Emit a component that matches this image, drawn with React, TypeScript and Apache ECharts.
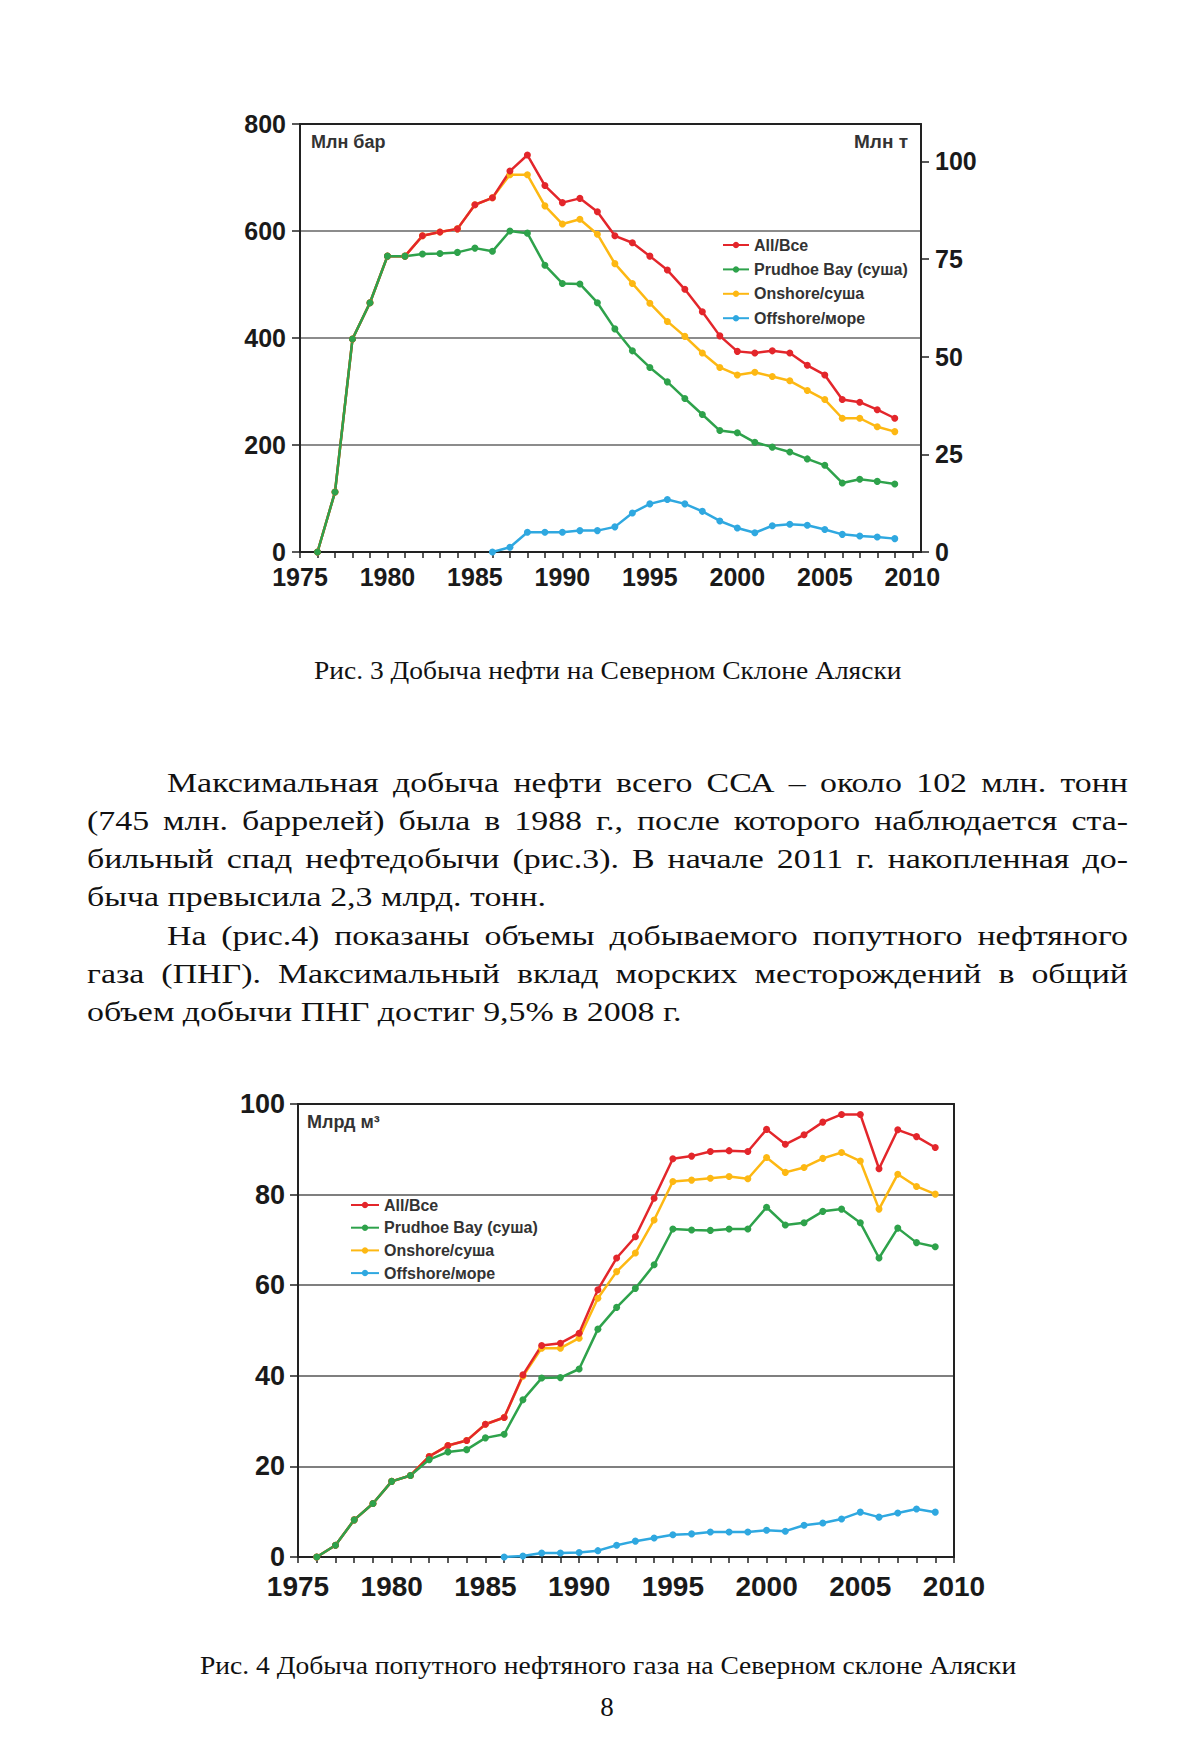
import React, { useEffect, useRef } from 'react';
import * as echarts from 'echarts';

// ---------- DATA ----------
const years = [1976, 1977, 1978, 1979, 1980, 1981, 1982, 1983, 1984, 1985, 1986, 1987, 1988, 1989, 1990, 1991, 1992, 1993, 1994, 1995, 1996, 1997, 1998, 1999, 2000, 2001, 2002, 2003, 2004, 2005, 2006, 2007, 2008, 2009];

// Fig. 3 — oil, million barrels
const oilAll = [0, 112, 398, 466, 553, 553, 591, 598, 604, 649, 662, 712, 742, 685, 653, 661, 636, 591, 578, 553, 527, 491, 449, 404, 375, 372, 376, 372, 349, 331, 285, 280, 266, 250];
const oilPrudhoe = [0, 112, 398, 466, 553, 553, 557, 558, 560, 568, 562, 600, 596, 536, 502, 501, 466, 417, 376, 345, 318, 287, 257, 227, 223, 205, 196, 187, 174, 162, 129, 136, 132, 127];
const oilOnshore = [0, 112, 398, 466, 553, 553, 591, 598, 604, 649, 662, 705, 705, 647, 613, 622, 594, 539, 502, 465, 431, 403, 372, 345, 331, 336, 328, 320, 302, 285, 250, 250, 234, 225];
const oilOffshore = [null, null, null, null, null, null, null, null, null, null, 0, 9, 37, 37, 37, 40, 40, 47, 73, 90, 98, 90, 76, 58, 45, 36, 49, 52, 50, 42, 33, 30, 28, 25];

// Fig. 4 — associated gas, bcm
const gasAll = [0, 2.6, 8.2, 11.8, 16.7, 18.0, 22.2, 24.6, 25.7, 29.3, 30.8, 40.2, 46.7, 47.2, 49.4, 59.0, 66.0, 70.7, 79.2, 87.9, 88.5, 89.5, 89.7, 89.5, 94.4, 91.1, 93.2, 96.0, 97.7, 97.7, 85.7, 94.3, 92.8, 90.4];
const gasPrudhoe = [0, 2.6, 8.2, 11.8, 16.7, 18.0, 21.5, 23.2, 23.7, 26.3, 27.1, 34.7, 39.5, 39.6, 41.5, 50.3, 55.1, 59.3, 64.5, 72.4, 72.2, 72.1, 72.4, 72.4, 77.2, 73.3, 73.8, 76.3, 76.8, 73.8, 66.0, 72.6, 69.4, 68.5];
const gasOnshore = [0, 2.6, 8.2, 11.8, 16.7, 18.0, 22.2, 24.6, 25.7, 29.3, 30.8, 39.9, 46.1, 46.1, 48.3, 57.1, 63.0, 67.1, 74.4, 82.9, 83.2, 83.6, 84.0, 83.5, 88.2, 84.9, 86.0, 88.0, 89.3, 87.4, 76.8, 84.5, 81.8, 80.1];
const gasOffshore = [null, null, null, null, null, null, null, null, null, null, 0, 0.2, 0.9, 0.9, 1.0, 1.4, 2.6, 3.5, 4.2, 4.9, 5.1, 5.5, 5.5, 5.5, 5.9, 5.7, 7.0, 7.5, 8.4, 9.9, 8.8, 9.7, 10.6, 9.9];

const seriesNames = ['All/Все', 'Prudhoe Bay (суша)', 'Onshore/суша', 'Offshore/море'];
const xLabelYears = [1975, 1980, 1985, 1990, 1995, 2000, 2005, 2010];
const oilRightTicks = [0, 25, 50, 75, 100];
const barrelsPerTonne = 7.3;

const paragraphLines = [
  { text: 'Максимальная добыча нефти всего ССА – около 102 млн. тонн', indent: true, justify: true },
  { text: '(745 млн. баррелей) была в 1988 г., после которого наблюдается ста-', indent: false, justify: true },
  { text: 'бильный спад нефтедобычи (рис.3). В начале 2011 г. накопленная до-', indent: false, justify: true },
  { text: 'быча превысила 2,3 млрд. тонн.', indent: false, justify: false },
  { text: 'На (рис.4) показаны объемы добываемого попутного нефтяного', indent: true, justify: true },
  { text: 'газа (ПНГ). Максимальный вклад морских месторождений в общий', indent: false, justify: true },
  { text: 'объем добычи ПНГ достиг 9,5% в 2008 г.', indent: false, justify: false },
];
const caption3 = 'Рис. 3 Добыча нефти на Северном Склоне Аляски';
const caption4 = 'Рис. 4 Добыча попутного нефтяного газа на Северном склоне Аляски';
const pageNumber = '8';

// ---------- STYLE ----------
const COLORS = { all: '#e3262b', prudhoe: '#2ea24b', onshore: '#fdb813', offshore: '#2fa8e0' };
const SANS = '"Liberation Sans", Arial, sans-serif';
const SERIF = '"Liberation Serif", "Times New Roman", serif';
const AXIS_COLOR = '#222';

const pairs = (vals: (number | null)[]) => years.map((y, i) => [y, vals[i]]);

function lineSeries(name: string, color: string, vals: (number | null)[], xi: number, yi: number) {
  return {
    type: 'line',
    name,
    xAxisIndex: xi,
    yAxisIndex: yi,
    data: pairs(vals),
    symbol: 'circle',
    symbolSize: 7,
    showSymbol: true,
    connectNulls: false,
    lineStyle: { color, width: 2.5 },
    itemStyle: { color },
  };
}

function minorYears(from: number, to: number) {
  const out: number[] = [];
  for (let y = from; y <= to; y++) out.push(y);
  return out;
}

export default function App() {
  const ref = useRef<HTMLDivElement>(null);

  useEffect(() => {
    document.body.style.margin = '0';
    if (!ref.current) return;
    const chart = echarts.init(ref.current, null, { renderer: 'svg' });

    // ---- text layout (measured) ----
    const ctx = document.createElement('canvas').getContext('2d')!;
    const paraFont = `27px ${SERIF}`;
    ctx.font = paraFont;
    const mw = (s: string) => ctx.measureText(s).width;
    const sx = (596 / mw(paragraphLines[6].text) + 458 / mw(paragraphLines[3].text)) / 2;
    const texts: any[] = [];
    paragraphLines.forEach((ln, i) => {
      const y = 783 + i * 38.2;
      const x0 = ln.indent ? 167 : 87;
      const right = 1128;
      const words = ln.text.split(' ');
      const ws = words.map((w) => mw(w) * sx);
      const sum = ws.reduce((a, b) => a + b, 0);
      const gap = ln.justify && words.length > 1 ? (right - x0 - sum) / (words.length - 1) : mw(' ') * sx;
      let x = x0;
      words.forEach((w, k) => {
        texts.push({
          type: 'text', x, y, scaleX: sx, silent: true,
          style: { text: w, font: paraFont, fill: '#111', textAlign: 'left', textVerticalAlign: 'middle' },
        });
        x += ws[k] + gap;
      });
    });
    const capFont = `25px ${SERIF}`;
    ctx.font = capFont;
    const c3w = ctx.measureText(caption3).width;
    const c4w = ctx.measureText(caption4).width;
    texts.push({ type: 'text', x: 314, y: 671, scaleX: 588 / c3w, silent: true,
      style: { text: caption3, font: capFont, fill: '#111', textAlign: 'left', textVerticalAlign: 'middle' } });
    texts.push({ type: 'text', x: 200, y: 1666, scaleX: 817 / c4w, silent: true,
      style: { text: caption4, font: capFont, fill: '#111', textAlign: 'left', textVerticalAlign: 'middle' } });
    texts.push({ type: 'text', x: 607, y: 1707, silent: true,
      style: { text: pageNumber, font: `27px ${SERIF}`, fill: '#111', textAlign: 'center', textVerticalAlign: 'middle' } });
    // unit labels inside the plots
    texts.push({ type: 'text', x: 311, y: 142, silent: true,
      style: { text: 'Млн бар', font: `bold 18px ${SANS}`, fill: '#333', textAlign: 'left', textVerticalAlign: 'middle' } });
    texts.push({ type: 'text', x: 908, y: 141, silent: true,
      style: { text: 'Млн т', font: `bold 19px ${SANS}`, fill: '#333', textAlign: 'right', textVerticalAlign: 'middle' } });
    texts.push({ type: 'text', x: 307, y: 1122, silent: true,
      style: { text: 'Млрд м³', font: `bold 18px ${SANS}`, fill: '#333', textAlign: 'left', textVerticalAlign: 'middle' } });

    const axisLine = { show: true, onZero: false, lineStyle: { color: AXIS_COLOR, width: 2 } };
    const tickStyle = { color: AXIS_COLOR, width: 1.5 };
    const borderAxis = (gridIndex: number, position: string, min: number, max: number) => ({
      gridIndex, type: 'value', position, min, max,
      axisLine, axisTick: { show: false }, axisLabel: { show: false }, splitLine: { show: false },
    });

    const legendBase = {
      orient: 'vertical',
      padding: 0,
      data: seriesNames,
      textStyle: { fontSize: 16, fontWeight: 'bold', color: '#333', fontFamily: SANS, lineHeight: 15 },
    };

    chart.setOption({
      animation: false,
      backgroundColor: '#ffffff',
      textStyle: { fontFamily: SANS },
      grid: [
        { left: 300, top: 124, width: 621, height: 428 },
        { left: 298, top: 1104, width: 656, height: 453 },
      ],
      legend: [
        { ...legendBase, left: 722, top: 237, itemWidth: 26, itemHeight: 8, itemGap: 8.4 },
        { ...legendBase, left: 350, top: 1197, itemWidth: 28, itemHeight: 8, itemGap: 6.7 },
      ],
      xAxis: [
        {
          gridIndex: 0, type: 'value', min: 1975, max: 2010.5, position: 'bottom',
          axisLine,
          axisTick: { show: true, customValues: minorYears(1975, 2010), length: 6, lineStyle: tickStyle },
          axisLabel: { customValues: xLabelYears, formatter: (v: number) => String(v), fontSize: 25, fontWeight: 'bold', color: '#1a1a1a', margin: 12, fontFamily: SANS },
          splitLine: { show: false },
        },
        borderAxis(0, 'top', 1975, 2010.5),
        {
          gridIndex: 1, type: 'value', min: 1975, max: 2010, position: 'bottom',
          axisLine,
          axisTick: { show: true, customValues: minorYears(1975, 2010), length: 6, lineStyle: tickStyle },
          axisLabel: { customValues: xLabelYears, formatter: (v: number) => String(v), fontSize: 28, fontWeight: 'bold', color: '#1a1a1a', margin: 15, fontFamily: SANS },
          splitLine: { show: false },
        },
        borderAxis(1, 'top', 1975, 2010),
      ],
      yAxis: [
        {
          gridIndex: 0, type: 'value', min: 0, max: 800, interval: 200, position: 'left',
          axisLine,
          axisTick: { show: true, length: 8, lineStyle: tickStyle },
          axisLabel: { fontSize: 25, fontWeight: 'bold', color: '#1a1a1a', margin: 14, fontFamily: SANS },
          splitLine: { show: true, lineStyle: { color: '#8c8c8c', width: 2 } },
        },
        {
          gridIndex: 0, type: 'value', min: 0, max: 800 / barrelsPerTonne, position: 'right',
          axisLine,
          axisTick: { show: true, customValues: oilRightTicks, length: 8, lineStyle: tickStyle },
          axisLabel: { customValues: oilRightTicks, formatter: (v: number) => String(v), fontSize: 25, fontWeight: 'bold', color: '#1a1a1a', margin: 14, fontFamily: SANS },
          splitLine: { show: false },
        },
        {
          gridIndex: 1, type: 'value', min: 0, max: 100, interval: 20, position: 'left',
          axisLine,
          axisTick: { show: true, length: 8, lineStyle: tickStyle },
          axisLabel: { fontSize: 27, fontWeight: 'bold', color: '#1a1a1a', margin: 13, fontFamily: SANS },
          splitLine: { show: true, lineStyle: { color: '#555', width: 1.5 } },
        },
        borderAxis(1, 'right', 0, 100),
      ],
      series: [
        lineSeries(seriesNames[2], COLORS.onshore, oilOnshore, 0, 0),
        lineSeries(seriesNames[0], COLORS.all, oilAll, 0, 0),
        lineSeries(seriesNames[1], COLORS.prudhoe, oilPrudhoe, 0, 0),
        lineSeries(seriesNames[3], COLORS.offshore, oilOffshore, 0, 0),
        lineSeries(seriesNames[2], COLORS.onshore, gasOnshore, 2, 2),
        lineSeries(seriesNames[0], COLORS.all, gasAll, 2, 2),
        lineSeries(seriesNames[1], COLORS.prudhoe, gasPrudhoe, 2, 2),
        lineSeries(seriesNames[3], COLORS.offshore, gasOffshore, 2, 2),
      ],
      graphic: { elements: texts },
    });

    return () => chart.dispose();
  }, []);

  return <div ref={ref} style={{ position: 'absolute', left: 0, top: 0, width: 1200, height: 1760, background: '#fff' }} />;
}
